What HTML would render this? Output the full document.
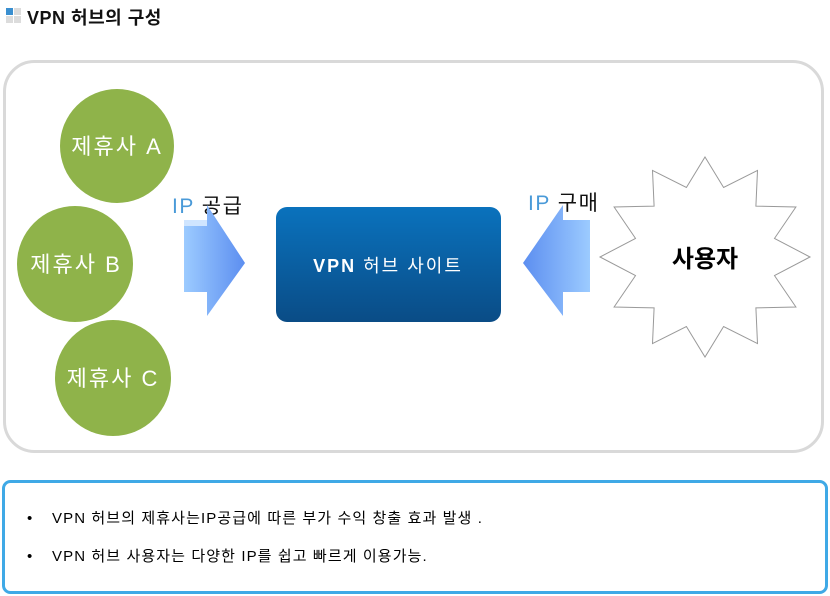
<!DOCTYPE html>
<html><head><meta charset="utf-8"><style>
body{margin:0;background:#fff;width:830px;height:596px;overflow:hidden;font-family:"Liberation Sans","Noto Sans CJK KR",sans-serif;}
</style></head><body>
<svg width="830" height="596" viewBox="0 0 830 596" xmlns="http://www.w3.org/2000/svg" style="position:absolute;left:0;top:0">
<defs>
<linearGradient id="bx" x1="0" y1="0" x2="0" y2="1"><stop offset="0" stop-color="#0a72bd"/><stop offset="1" stop-color="#0a4c86"/></linearGradient>
<linearGradient id="al" x1="0" y1="0" x2="1" y2="0"><stop offset="0" stop-color="#9ccbff"/><stop offset="1" stop-color="#5c8ef0"/></linearGradient>
<linearGradient id="ar" x1="1" y1="0" x2="0" y2="0"><stop offset="0" stop-color="#9ccbff"/><stop offset="1" stop-color="#5c8ef0"/></linearGradient>
</defs>
<rect x="6" y="8" width="7" height="7" fill="#3a8fd0"/><rect x="14" y="8" width="7" height="7" fill="#dcdcdc"/>
<rect x="6" y="16" width="7" height="7" fill="#dcdcdc"/><rect x="14" y="16" width="7" height="7" fill="#dcdcdc"/>
<text x="27" y="24" font-size="18" font-weight="bold" fill="#111" letter-spacing="0.5">VPN 허브의  구성</text>
<rect x="4.5" y="61.5" width="818" height="390" rx="30" fill="#fff" stroke="#d9d9d9" stroke-width="3"/>
<circle cx="117" cy="146" r="57" fill="#8fb34a"/>
<circle cx="75" cy="264" r="58" fill="#8fb34a"/>
<circle cx="113" cy="378" r="58" fill="#8fb34a"/>
<g fill="#fff" font-size="22" text-anchor="middle" letter-spacing="2">
<text x="117" y="154">제휴사 A</text>
<text x="76" y="272">제휴사 B</text>
<text x="113" y="386">제휴사 C</text>
</g>
<text x="172" y="213" font-size="21" fill="#4a9ad8" letter-spacing="1.5">IP <tspan fill="#111">공급</tspan></text>
<text x="528" y="210" font-size="21" fill="#4a9ad8" letter-spacing="1.5">IP <tspan fill="#111">구매</tspan></text>
<polygon points="184,220 207,220 207,205 245,263 207,316 207,292 184,292" fill="url(#al)"/>
<polygon points="184,226 207,226 207,220 184,220" fill="#cfe5ff"/>
<polygon points="590,220 563,220 563,205 523,263 563,316 563,292 590,292" fill="url(#ar)"/>
<rect x="276" y="207" width="225" height="115" rx="11" fill="url(#bx)"/>
<text x="388" y="272" font-size="18" fill="#fff" text-anchor="middle" letter-spacing="2"><tspan font-weight="bold">VPN</tspan> 허브 사이트</text>
<polygon fill="#fff" stroke="#999" stroke-width="1" points="705,157 723.6,187.5 757.5,170.4 755.9,206.1 795.9,207 774.5,238.4 810,257 774.5,275.6 795.9,307 755.9,307.9 757.5,343.6 723.6,326.5 705,357 686.4,326.5 652.5,343.6 654.1,307.9 614.1,307 635.5,275.6 600,257 635.5,238.4 614.1,207 654.1,206.1 652.5,170.4 686.4,187.5"/>
<text x="705" y="267" font-size="24" font-weight="bold" fill="#000" text-anchor="middle">사용자</text>
<rect x="3.5" y="481.5" width="823" height="111" rx="7" fill="#fff" stroke="#3fa9e6" stroke-width="3"/>
<g font-size="15" fill="#000">
<text x="27" y="523">•</text><text x="52" y="523" letter-spacing="1.1">VPN 허브의 제휴사는IP공급에 따른 부가 수익 창출 효과 발생 .</text>
<text x="27" y="561">•</text><text x="52" y="561" letter-spacing="1.1">VPN 허브 사용자는 다양한 IP를 쉽고 빠르게 이용가능.</text>
</g>
</svg>
</body></html>
